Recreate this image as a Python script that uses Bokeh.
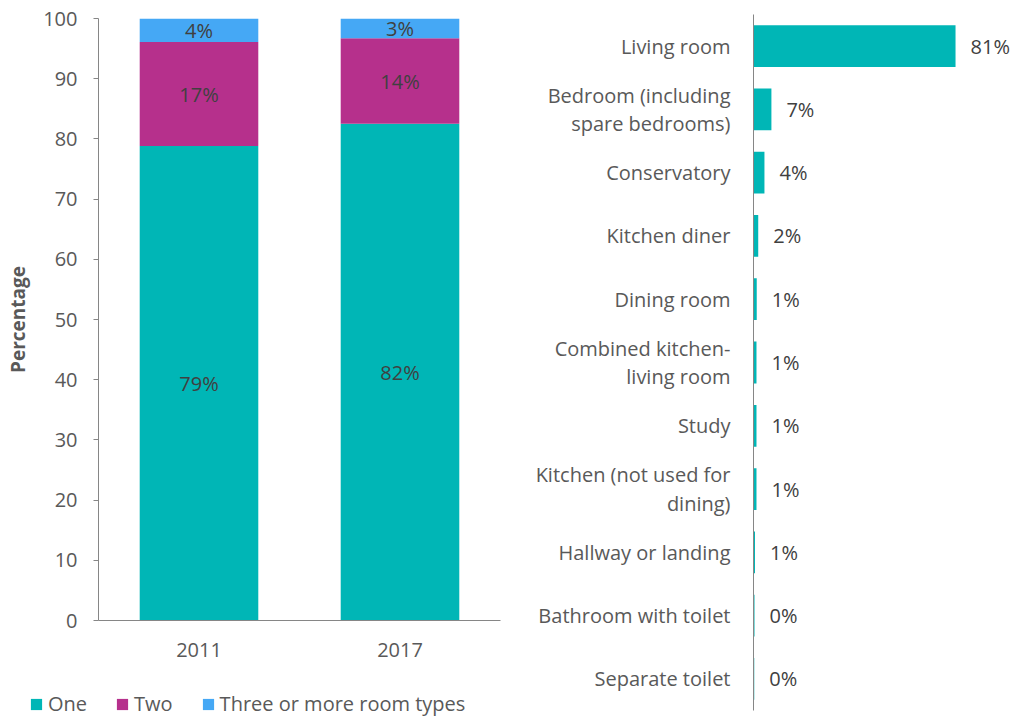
from bokeh.plotting import figure
from bokeh.models import ColumnDataSource, FactorRange, Range1d, Legend, LegendItem, FixedTicker, Spacer
from bokeh.layouts import row, column
from bokeh.embed import file_html
from bokeh.resources import INLINE
from bokeh.core.properties import value

# ---- data: left stacked chart ----
years = ["2011", "2017"]
one = [78.8, 82.5]
two = [17.3, 14.2]
three = [3.9, 3.3]
one_labels = ["79%", "82%"]
two_labels = ["17%", "14%"]
three_labels = ["4%", "3%"]
series_names = ["One", "Two", "Three or more room types"]

# ---- data: right bar chart ----
rooms = ["Living room", "Bedroom (including\nspare bedrooms)", "Conservatory", "Kitchen diner",
         "Dining room", "Combined kitchen-\nliving room", "Study", "Kitchen (not used for\ndining)",
         "Hallway or landing", "Bathroom with toilet", "Separate toilet"]
room_pct = [81.2, 7.2, 4.4, 1.9, 1.3, 1.2, 1.2, 1.2, 0.6, 0.4, 0.3]
room_labels = ["81%", "7%", "4%", "2%", "1%", "1%", "1%", "1%", "1%", "0%", "0%"]

TEAL = "#00B6B6"
MAGENTA = "#B6308C"
BLUE = "#45A8F5"
COLORS = [TEAL, MAGENTA, BLUE]
AXIS = "#868686"
TICKTXT = "#595959"
LBL = "#404040"
FONT = "Open Sans"
FS = "20px"

# ---------------- left chart ----------------
src = ColumnDataSource(dict(
    year=years, one=one, two=two, three=three,
    y1=[a / 2 for a in one],
    y2=[a + b / 2 for a, b in zip(one, two)],
    y3=[a + b + c / 2 for a, b, c in zip(one, two, three)],
    l1=one_labels, l2=two_labels, l3=three_labels,
))

p1 = figure(x_range=FactorRange(*years), y_range=Range1d(0, 100),
            width=510, height=685, output_backend="svg", toolbar_location=None,
            min_border_left=98, min_border_right=10, min_border_top=18, min_border_bottom=65)
p1.vbar_stack(["one", "two", "three"], x="year", width=0.59,
              color=COLORS, line_color=None, source=src)

for ycol, lcol in (("y1", "l1"), ("y2", "l2"), ("y3", "l3")):
    p1.text(x="year", y=ycol, text=lcol, source=src, text_align="center",
            text_baseline="middle", text_color=LBL, text_font=value(FONT),
            text_font_size=FS)

p1.yaxis.ticker = FixedTicker(ticks=list(range(0, 101, 10)))
p1.yaxis.axis_label = "Percentage"
p1.yaxis.axis_label_text_font = FONT
p1.yaxis.axis_label_text_font_style = "bold"
p1.yaxis.axis_label_text_font_size = "19px"
p1.yaxis.axis_label_text_color = TICKTXT
p1.yaxis.axis_label_standoff = 9
p1.yaxis.major_label_standoff = 16
p1.yaxis.major_tick_out = 5
p1.yaxis.major_tick_in = 0
p1.yaxis.minor_tick_line_color = None
for ax in (p1.xaxis[0], p1.yaxis[0]):
    ax.axis_line_color = AXIS
    ax.major_tick_line_color = AXIS
    ax.major_label_text_font = FONT
    ax.major_label_text_font_size = FS
    ax.major_label_text_color = TICKTXT
p1.xaxis.major_tick_line_color = None
p1.xaxis.major_tick_out = 0
p1.xaxis.major_label_standoff = 22
p1.grid.visible = False
p1.outline_line_color = None

# ---------------- legend strip under the left chart ----------------
pl = figure(width=508, height=32, x_range=Range1d(0, 1), y_range=Range1d(0, 1),
            output_backend="svg", toolbar_location=None,
            x_axis_location=None, y_axis_location=None,
            min_border_left=0, min_border_right=0, min_border_top=0, min_border_bottom=0)
pl.grid.visible = False
pl.outline_line_color = None
# legend-only swatches: a single placeholder point kept outside the visible range
dummy = ColumnDataSource(dict(x=[-5], y=[-5]))
items = []
for name, col in zip(series_names, COLORS):
    r = pl.rect(x="x", y="y", width=1, height=1, fill_color=col, line_color=None, source=dummy)
    items.append(LegendItem(label=name, renderers=[r]))
legend = Legend(items=items, orientation="horizontal", location=(28, 0),
                glyph_width=14, glyph_height=14, label_standoff=5, spacing=28,
                padding=0, margin=0, border_line_color=None, background_fill_alpha=0,
                label_text_font=FONT, label_text_font_size=FS, label_text_color=TICKTXT)
pl.add_layout(legend)

# ---------------- right chart ----------------
src2 = ColumnDataSource(dict(room=rooms, pct=room_pct, lab=room_labels))
p2 = figure(y_range=FactorRange(*rooms[::-1]), x_range=Range1d(0, 104.5),
            width=503, height=710, output_backend="svg", toolbar_location=None,
            x_axis_location=None,
            min_border_left=243, min_border_right=0, min_border_top=12, min_border_bottom=2)
p2.hbar(y="room", left=0, right="pct", height=0.66, color=TEAL, line_color=None, source=src2)
p2.text(x="pct", y="room", text="lab", source=src2, x_offset=15, text_align="left",
        text_baseline="middle", text_color=LBL, text_font=value(FONT), text_font_size=FS)
ya = p2.yaxis[0]
ya.axis_line_color = AXIS
ya.major_tick_line_color = None
ya.major_tick_out = 0
ya.major_label_standoff = 23
ya.major_label_text_font = FONT
ya.major_label_text_font_size = FS
ya.major_label_text_color = TICKTXT
ya.major_label_text_line_height = 1.05
p2.grid.visible = False
p2.outline_line_color = None

left = column(p1, row(Spacer(width=1, height=32), pl, spacing=0), spacing=0)
right = column(Spacer(width=503, height=2), p2, spacing=0)
layout = row(left, right, spacing=0)
open("out.html", "w").write(file_html(layout, INLINE))
